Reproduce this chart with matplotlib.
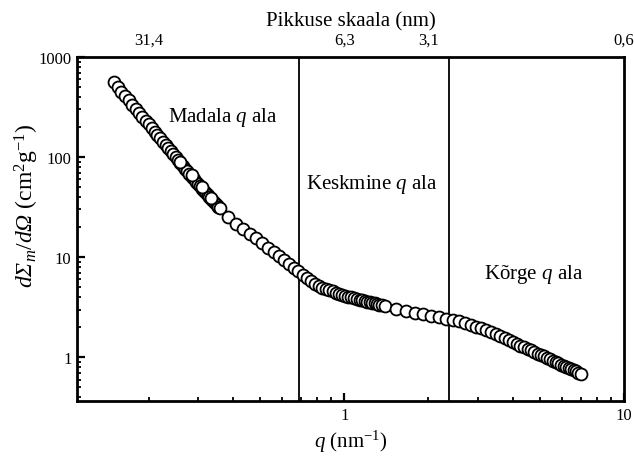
import matplotlib
matplotlib.use("Agg")
import matplotlib.pyplot as plt
from matplotlib.ticker import LogLocator, NullFormatter, NullLocator

plt.rcParams["font.family"] = "serif"
plt.rcParams["font.serif"] = ["Liberation Serif", "DejaVu Serif"]
plt.rcParams["mathtext.fontset"] = "custom"
plt.rcParams["mathtext.rm"] = "Liberation Serif"
plt.rcParams["mathtext.it"] = "Liberation Serif:italic"
# italic capital greek (mathtext forces \mathit greek capitals upright)
plt.rcParams["mathtext.bf"] = "Liberation Serif:italic"

########### DATA ###########
q_low = [0.150, 0.155, 0.160, 0.165, 0.170, 0.175, 0.180, 0.185, 0.190, 0.195,
         0.200, 0.205, 0.210, 0.215, 0.220, 0.225, 0.230, 0.235, 0.240, 0.245,
         0.250, 0.255, 0.260, 0.265, 0.270, 0.275, 0.280, 0.285, 0.290, 0.295,
         0.300, 0.305, 0.310, 0.315, 0.320, 0.325, 0.330, 0.335, 0.340, 0.345,
         0.350, 0.355]
i_low = [562, 503, 452, 407, 368, 334, 303, 276, 252, 231,
         212, 195, 180, 166, 153.5, 142, 132, 122.5, 114, 106.4,
         99.3, 92.9, 87.1, 81.7, 76.7, 72.2, 67.9, 64.0, 60.4, 57.0,
         53.9, 51.0, 48.3, 45.8, 43.6, 41.7, 39.8, 38.1, 36.5, 35.0,
         33.5, 32.1]

q_mid = [0.260, 0.285, 0.310, 0.335, 0.360, 0.385, 0.410, 0.435, 0.460, 0.485,
         0.510, 0.535, 0.560, 0.585, 0.610, 0.635, 0.660, 0.685, 0.710, 0.735,
         0.760, 0.785, 0.810, 0.835, 0.860, 0.885, 0.910, 0.935, 0.960, 0.985,
         1.010, 1.035, 1.060, 1.085, 1.110, 1.135, 1.160, 1.185, 1.210, 1.235,
         1.260, 1.285, 1.310, 1.335, 1.360]
i_mid = [90.2, 66.2, 50.0, 39.4, 30.8, 25.3, 21.6, 19.2, 17.1, 15.4,
         13.9, 12.5, 11.3, 10.3, 9.38, 8.59, 7.89, 7.27, 6.71, 6.22,
         5.78, 5.38, 5.14, 4.98, 4.83, 4.69, 4.55, 4.42, 4.30, 4.19,
         4.09, 4.02, 3.96, 3.89, 3.83, 3.77, 3.72, 3.66, 3.61, 3.56,
         3.51, 3.45, 3.40, 3.36, 3.31]

q_high = [1.40, 1.53, 1.66, 1.79, 1.92, 2.05, 2.18, 2.31, 2.44, 2.57,
          2.70, 2.83, 2.96, 3.09, 3.22, 3.35, 3.48, 3.61, 3.74, 3.87,
          4.00, 4.13, 4.26, 4.39, 4.52, 4.65, 4.78, 4.91, 5.04, 5.17,
          5.30, 5.43, 5.56, 5.69, 5.82, 5.95, 6.08, 6.21, 6.34, 6.47,
          6.60, 6.73, 6.86, 6.99]
i_high = [3.24, 3.03, 2.88, 2.78, 2.68, 2.60, 2.52, 2.44, 2.38, 2.30,
          2.20, 2.11, 2.02, 1.95, 1.86, 1.77, 1.69, 1.62, 1.55, 1.48,
          1.42, 1.36, 1.31, 1.26, 1.21, 1.17, 1.13, 1.09, 1.05, 1.02,
          0.985, 0.954, 0.926, 0.898, 0.872, 0.847, 0.824, 0.802, 0.780, 0.760,
          0.741, 0.722, 0.705, 0.687]

region_edges = [0.69, 2.36]
region_names = ["Madala $q$ ala", "Keskmine $q$ ala", "K\u00f5rge $q$ ala"]
x_ticks = [1, 10]
x_tick_labels = ["1", "10"]
y_ticks = [1, 10, 100, 1000]
y_tick_labels = ["1", "10", "100", "1000"]
top_q = [0.2, 1, 2, 10]
top_labels = ["31,4", "6,3", "3,1", "0,6"]
###################################################

fig = plt.figure(figsize=(6.34, 4.64), dpi=100)
ax = fig.add_axes([0.1215, 0.1336, 0.8628, 0.7414])
ax.set_xscale("log")
ax.set_yscale("log")
ax.set_xlim(0.111, 10)
ax.set_ylim(0.366, 1000)

for edge in region_edges:
    ax.axvline(edge, color="black", lw=1.3, zorder=1)

for qq, ii in [(q_low, i_low), (q_mid, i_mid), (q_high, i_high)]:
    ax.plot(qq, ii, "o", ls="none", mfc="white", mec="black", ms=8.6, mew=1.3, zorder=3)

ax.set_xticks(x_ticks, x_tick_labels)
ax.set_yticks(y_ticks, y_tick_labels)
ax.xaxis.set_minor_locator(LogLocator(base=10, subs=range(2, 10)))
ax.yaxis.set_minor_locator(LogLocator(base=10, subs=range(2, 10)))
ax.xaxis.set_minor_formatter(NullFormatter())
ax.yaxis.set_minor_formatter(NullFormatter())
ax.tick_params(which="both", direction="in", top=True, right=False, labelsize=12)
ax.tick_params(which="major", length=6, width=1.6)
ax.tick_params(which="minor", length=3, width=1.3)
ax.tick_params(axis="x", pad=4)
ax.tick_params(axis="y", pad=4)
for s in ax.spines.values():
    s.set_linewidth(2)

ax.set_xlabel("$q$ (nm$^{-1}$)", fontsize=15, labelpad=4)
ax.set_ylabel(r"$d\mathbf{\Sigma}_m/d\mathbf{\Omega}$ (cm$^2$g$^{-1}$)", fontsize=17)
ax.yaxis.set_label_coords(-0.066, 0.57)

ax2 = ax.twiny()
ax2.set_xscale("log")
ax2.set_xlim(ax.get_xlim())
ax2.set_xticks(top_q, top_labels)
ax2.xaxis.set_minor_locator(NullLocator())
ax2.tick_params(axis="x", length=0, pad=7, labelsize=12)
for s in ax2.spines.values():
    s.set_visible(False)
ax2.set_xlabel("Pikkuse skaala (nm)", fontsize=15, labelpad=4)

text_pos = [(0.267, 0.828), (0.539, 0.631), (0.835, 0.372)]
for name, (tx, ty) in zip(region_names, text_pos):
    ax.text(tx, ty, name, transform=ax.transAxes, ha="center", va="center", fontsize=15)

fig.savefig("out.png", dpi=100)
